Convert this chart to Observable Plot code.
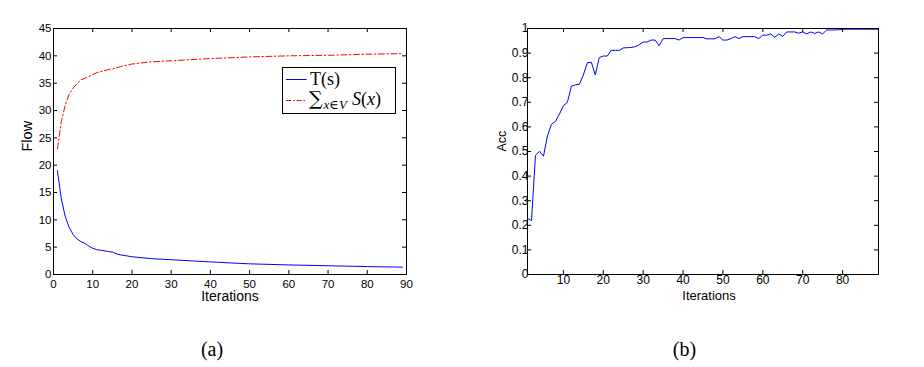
<!DOCTYPE html>
<html>
<head>
<meta charset="utf-8">
<script src="https://cdn.jsdelivr.net/npm/d3@7"></script>
<script src="https://cdn.jsdelivr.net/npm/@observablehq/plot@0.6"></script>
<style>
  html, body { margin: 0; padding: 0; background: #fff; }
  #wrap { position: relative; width: 924px; height: 367px; overflow: hidden; background: #fff; }
  #wrap > .panel { position: absolute; top: 0; }
  .caption { position: absolute; top: 338px; width: 60px; text-align: center;
             font-family: "Liberation Serif", "DejaVu Serif", serif; font-size: 20px; color: #000; }
  #legend { position: absolute; left: 281.5px; top: 66.5px; }
</style>
</head>
<body>
<div id="wrap"></div>
<script>
// ---------- data: panel (a) ----------
const flowIter = [1, 2, 3, 4, 5, 6, 7, 8, 9, 10, 11, 12, 14, 15, 16, 17, 20, 25, 30, 40, 50, 60, 70, 80, 89];
const flowT    = [19, 13.8, 10.6, 8.6, 7.3, 6.5, 6.0, 5.7, 5.2, 4.8, 4.55, 4.45, 4.2, 4.1, 3.8, 3.6, 3.25, 2.9, 2.7, 2.3, 1.95, 1.75, 1.6, 1.45, 1.35];
const flowS    = [23, 28, 31, 33, 34.1, 34.9, 35.6, 35.9, 36.2, 36.6, 36.9, 37.1, 37.5, 37.6, 37.8, 38.0, 38.5, 38.9, 39.1, 39.5, 39.8, 40.0, 40.1, 40.3, 40.4];
const flowTicksX = [0, 10, 20, 30, 40, 50, 60, 70, 80, 90];
const flowTicksY = [0, 5, 10, 15, 20, 25, 30, 35, 40, 45];
const seriesNames = ["T(s)", "∑x∈V S(x)"];

// ---------- data: panel (b) ----------
const accValues = [
  0.228, 0.219, 0.484, 0.501, 0.481, 0.563, 0.611, 0.622, 0.652, 0.686,
  0.700, 0.765, 0.771, 0.773, 0.811, 0.861, 0.863, 0.811, 0.882, 0.888,
  0.888, 0.911, 0.911, 0.911, 0.921, 0.922, 0.923, 0.926, 0.934, 0.945,
  0.945, 0.953, 0.953, 0.930, 0.959, 0.959, 0.959, 0.959, 0.953, 0.963,
  0.963, 0.963, 0.963, 0.963, 0.963, 0.958, 0.958, 0.958, 0.967, 0.953,
  0.953, 0.959, 0.967, 0.959, 0.967, 0.967, 0.967, 0.967, 0.959, 0.973,
  0.973, 0.978, 0.964, 0.978, 0.968, 0.986, 0.986, 0.986, 0.981, 0.986,
  0.978, 0.986, 0.980, 0.986, 0.978, 0.994, 0.994, 0.994, 0.995, 0.997,
  0.997, 0.997, 0.997, 0.997, 0.997, 0.997, 0.997, 0.997, 0.997
];
const accTicksX = [10, 20, 30, 40, 50, 60, 70, 80];
const accTicksY = [0, 0.1, 0.2, 0.3, 0.4, 0.5, 0.6, 0.7, 0.8, 0.9, 1];
const captions = ["(a)", "(b)"];

// ---------- build ----------
const sans = "'Liberation Sans', Arial, Helvetica, sans-serif";
const wrap = document.getElementById("wrap");
const W = 462, H = 310;

function panel(opts) {
  const pw = W - opts.ml - opts.mr, ph = H - opts.mt - opts.mb;
  return Plot.plot({
    width: W, height: H,
    marginTop: opts.mt, marginLeft: opts.ml, marginRight: opts.mr, marginBottom: opts.mb,
    x: {domain: opts.xdomain},
    y: {domain: opts.ydomain},
    style: {fontFamily: sans, fontSize: opts.tickFont + "px", color: "#000", background: "transparent", overflow: "visible"},
    marks: [
      ...opts.lines,
      Plot.frame({stroke: "#000", strokeWidth: 1}),
      Plot.tickX(opts.ticksX, {x: d => d, insetTop: ph - 4, stroke: "#000"}),
      Plot.tickX(opts.ticksX, {x: d => d, insetBottom: ph - 4, stroke: "#000"}),
      Plot.tickY(opts.ticksY, {y: d => d, insetRight: pw - 4, stroke: "#000"}),
      Plot.tickY(opts.ticksY, {y: d => d, insetLeft: pw - 4, stroke: "#000"}),
      Plot.axisX(opts.ticksX, {anchor: "bottom", tickSize: 0, tickPadding: opts.padX, fontSize: opts.tickFont, label: null, tickFormat: d => String(d)}),
      Plot.axisY(opts.ticksY, {anchor: "left", tickSize: 0, tickPadding: opts.padY, fontSize: opts.tickFont, label: null, tickFormat: d => String(d)}),
      Plot.text([opts.xlabel], {text: d => d, frameAnchor: "bottom", dy: opts.xlabelDy, dx: opts.xlabelDx, lineAnchor: "middle", fontSize: opts.xlabelFont, fill: "#000"}),
      Plot.text([opts.ylabel], {text: d => d, frameAnchor: "left", dx: opts.ylabelDx, rotate: -90, lineAnchor: "middle", fontSize: opts.ylabelFont, fill: "#000"})
    ]
  });
}

const rowsT = flowIter.map((it, i) => ({it, v: flowT[i]}));
const rowsS = flowIter.map((it, i) => ({it, v: flowS[i]}));
const rowsAcc = accValues.map((v, i) => ({it: i + 1, v}));

const left = panel({
  mt: 28, ml: 53, mr: 56, mb: 36,
  xdomain: [0, 90], ydomain: [0, 45],
  ticksX: flowTicksX, ticksY: flowTicksY,
  tickFont: 11.5, padX: 5, padY: 2,
  xlabel: "Iterations", xlabelDy: 22, xlabelDx: 0, xlabelFont: 14,
  ylabel: "Flow", ylabelDx: -26, ylabelFont: 14.5,
  lines: [
    Plot.line(rowsS, {x: "it", y: "v", stroke: "#ff0000", strokeWidth: 1, strokeDasharray: "6,2.5,1.5,2.5"}),
    Plot.line(rowsT, {x: "it", y: "v", stroke: "#0000ff", strokeWidth: 1})
  ]
});
left.classList.add("panel");
left.style.left = "0px";
wrap.appendChild(left);

const right = panel({
  mt: 28, ml: 65, mr: 46, mb: 36,
  xdomain: [1, 89], ydomain: [0, 1],
  ticksX: accTicksX, ticksY: accTicksY,
  tickFont: 12, padX: 1, padY: -1,
  xlabel: "Iterations", xlabelDy: 21, xlabelDx: 6, xlabelFont: 13,
  ylabel: "Acc", ylabelDx: -26, ylabelFont: 12.5,
  lines: [
    Plot.line(rowsAcc, {x: "it", y: "v", stroke: "#0000ff", strokeWidth: 1})
  ]
});
right.classList.add("panel");
right.style.left = "462px";
wrap.appendChild(right);

// ---------- legend (panel a) ----------
const NS = "http://www.w3.org/2000/svg";
const leg = document.createElementNS(NS, "svg");
leg.setAttribute("id", "legend");
leg.setAttribute("width", 115);
leg.setAttribute("height", 48);
const serif = "'Liberation Serif', 'DejaVu Serif', serif";
const s2 = seriesNames[1];
leg.innerHTML = `
  <rect x="0.5" y="0.5" width="113" height="46" fill="#fff" stroke="#000" stroke-width="1"/>
  <line x1="4" x2="24.5" y1="12.5" y2="12.5" stroke="#0000ff" stroke-width="1"/>
  <line x1="4" x2="24.5" y1="33.5" y2="33.5" stroke="#ff0000" stroke-width="1" stroke-dasharray="5,2,1.5,2"/>
  <text x="28" y="18" font-family="${serif}" font-size="18" fill="#000">${seriesNames[0]}</text>
  <text x="27" y="38" font-family="${serif}" font-size="18" fill="#000"><tspan font-family="'DejaVu Serif', serif" font-size="19">${s2.slice(0,1)}</tspan><tspan font-style="italic" font-size="13" dy="4" dx="1">${s2.slice(1,2)}</tspan><tspan font-size="13">${s2.slice(2,3)}</tspan><tspan font-style="italic" font-size="13">${s2.slice(3,4)}</tspan><tspan dy="-4" dx="5" font-style="italic">S</tspan><tspan>(</tspan><tspan font-style="italic">x</tspan><tspan>)</tspan></text>
`;
wrap.appendChild(leg);

// ---------- captions ----------
const capX = [212, 684.5];
captions.forEach((c, i) => {
  const d = document.createElement("div");
  d.className = "caption";
  d.textContent = c;
  d.style.left = (capX[i] - 30) + "px";
  wrap.appendChild(d);
});
</script>
</body>
</html>
